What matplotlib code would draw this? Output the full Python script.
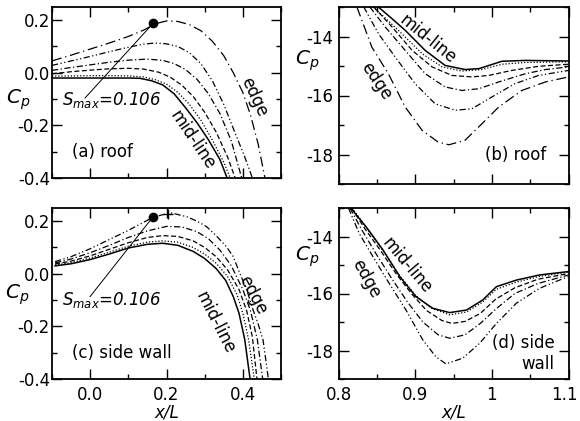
"""Cp distributions along roof and side wall, mid-line to edge"""

import matplotlib
matplotlib.use('Agg')
import matplotlib.pyplot as plt
from matplotlib.ticker import MultipleLocator, FixedLocator, FixedFormatter
from matplotlib.transforms import ScaledTranslation

plt.rcParams['font.family'] = ['DejaVu Sans']
plt.rcParams['font.size'] = 12
plt.rcParams['mathtext.fontset'] = 'dejavusans'

# ---- (a) roof, front part ----
a_solid_x = [-0.1, -0.05, 0.0, 0.05, 0.1, 0.13, 0.16, 0.19, 0.22, 0.25, 0.28, 0.31, 0.34, 0.36]
a_solid_y = [-0.02, -0.02, -0.02, -0.02, -0.02, -0.021, -0.03, -0.046, -0.08, -0.133, -0.19, -0.255, -0.33, -0.404]
a_dot_x = [-0.1, -0.05, 0.0, 0.05, 0.1, 0.14, 0.17, 0.2, 0.23, 0.26, 0.29, 0.32, 0.35, 0.367]
a_dot_y = [-0.013, -0.012, -0.011, -0.011, -0.012, -0.016, -0.026, -0.043, -0.075, -0.12, -0.18, -0.255, -0.34, -0.4]
a_dash_x = [-0.1, -0.05, 0.0, 0.05, 0.1, 0.14, 0.18, 0.21, 0.24, 0.27, 0.3, 0.33, 0.36, 0.38]
a_dash_y = [-0.004, 0.004, 0.01, 0.015, 0.017, 0.014, 0.002, -0.017, -0.047, -0.09, -0.15, -0.225, -0.32, -0.4]
a_dd_x = [-0.1, -0.05, 0.0, 0.05, 0.1, 0.15, 0.19, 0.22, 0.25, 0.28, 0.31, 0.34, 0.37, 0.397]
a_dd_y = [0.009, 0.02, 0.03, 0.04, 0.048, 0.052, 0.047, 0.035, 0.012, -0.025, -0.08, -0.155, -0.26, -0.4]
a_ddd_x = [-0.1, -0.05, 0.0, 0.05, 0.1, 0.14, 0.17, 0.2, 0.23, 0.26, 0.29, 0.32, 0.35, 0.38, 0.405, 0.425]
a_ddd_y = [0.028, 0.045, 0.062, 0.08, 0.097, 0.109, 0.113, 0.11, 0.1, 0.076, 0.035, -0.03, -0.12, -0.23, -0.32, -0.4]
a_edge_x = [-0.1, -0.05, 0.0, 0.05, 0.1, 0.14, 0.17, 0.2, 0.23, 0.26, 0.29, 0.32, 0.35, 0.375, 0.4, 0.42, 0.44, 0.458]
a_edge_y = [0.045, 0.067, 0.09, 0.113, 0.138, 0.162, 0.186, 0.197, 0.195, 0.183, 0.16, 0.12, 0.065, 0.0, -0.075, -0.16, -0.27, -0.4]
a_smax = (0.165, 0.188)

# ---- (b) roof, rear part ----
b_solid_x = [0.852, 0.87, 0.887, 0.913, 0.939, 0.965, 0.983, 1.0, 1.013, 1.044, 1.07, 1.1]
b_solid_y = [-13.0, -13.4, -13.79, -14.47, -14.98, -15.12, -15.09, -14.95, -14.84, -14.81, -14.82, -14.83]
b_dot_x = [0.845, 0.86, 0.878, 0.909, 0.935, 0.961, 0.987, 1.013, 1.044, 1.07, 1.1]
b_dot_y = [-13.0, -13.35, -13.79, -14.58, -15.03, -15.17, -15.12, -14.94, -14.88, -14.87, -14.86]
b_dash_x = [0.846, 0.87, 0.896, 0.922, 0.948, 0.974, 0.996, 1.026, 1.061, 1.1]
b_dash_y = [-13.0, -13.68, -14.47, -15.03, -15.32, -15.37, -15.32, -15.15, -15.01, -14.94]
b_dd_x = [0.841, 0.861, 0.887, 0.913, 0.939, 0.961, 0.983, 1.009, 1.044, 1.07, 1.1]
b_dd_y = [-13.0, -13.68, -14.47, -15.26, -15.71, -15.83, -15.77, -15.54, -15.26, -15.12, -15.03]
b_ddd_x = [0.833, 0.852, 0.874, 0.9, 0.926, 0.952, 0.974, 1.0, 1.03, 1.061, 1.1]
b_ddd_y = [-13.0, -13.9, -14.7, -15.6, -16.28, -16.5, -16.45, -16.05, -15.6, -15.32, -15.15]
b_edge_x = [0.824, 0.8435, 0.865, 0.887, 0.909, 0.93, 0.944, 0.965, 0.987, 1.009, 1.039, 1.07, 1.1]
b_edge_y = [-13.0, -14.36, -15.26, -16.39, -17.18, -17.58, -17.67, -17.52, -16.96, -16.39, -15.83, -15.54, -15.37]

# ---- (c) side wall, front part ----
c_solid_x = [-0.092, -0.05, 0.0, 0.05, 0.1, 0.15, 0.19, 0.23, 0.27, 0.3, 0.33, 0.355, 0.375, 0.39, 0.405, 0.419]
c_solid_y = [0.03, 0.038, 0.054, 0.075, 0.098, 0.112, 0.116, 0.108, 0.085, 0.058, 0.02, -0.025, -0.087, -0.15, -0.25, -0.4]
c_dot_x = [-0.092, -0.05, 0.0, 0.05, 0.1, 0.15, 0.19, 0.23, 0.27, 0.3, 0.33, 0.36, 0.385, 0.4, 0.415, 0.43]
c_dot_y = [0.033, 0.042, 0.06, 0.082, 0.105, 0.12, 0.125, 0.12, 0.1, 0.075, 0.04, -0.01, -0.08, -0.15, -0.25, -0.4]
c_dash_x = [-0.092, -0.05, 0.0, 0.05, 0.1, 0.15, 0.19, 0.23, 0.27, 0.3, 0.33, 0.36, 0.39, 0.41, 0.425, 0.437]
c_dash_y = [0.037, 0.048, 0.068, 0.093, 0.118, 0.138, 0.145, 0.142, 0.125, 0.1, 0.065, 0.015, -0.06, -0.14, -0.24, -0.4]
c_dd_x = [-0.092, -0.05, 0.0, 0.05, 0.1, 0.15, 0.2, 0.24, 0.28, 0.31, 0.34, 0.37, 0.4, 0.42, 0.438, 0.452]
c_dd_y = [0.041, 0.056, 0.08, 0.108, 0.138, 0.163, 0.18, 0.178, 0.16, 0.133, 0.09, 0.03, -0.06, -0.14, -0.25, -0.4]
c_edge_x = [-0.092, -0.05, 0.0, 0.05, 0.1, 0.165, 0.21, 0.253, 0.28, 0.305, 0.33, 0.357, 0.375, 0.392, 0.41, 0.427, 0.44, 0.453, 0.467]
c_edge_y = [0.046, 0.065, 0.095, 0.13, 0.165, 0.215, 0.232, 0.217, 0.2, 0.179, 0.145, 0.103, 0.065, 0.002, -0.06, -0.138, -0.19, -0.252, -0.4]
c_smax = (0.165, 0.217)
c_plus = (0.205, 0.227)

# ---- (d) side wall, rear part ----
d_solid_x = [0.816, 0.836, 0.858, 0.88, 0.901, 0.923, 0.945, 0.967, 0.988, 1.006, 1.032, 1.062, 1.1]
d_solid_y = [-13.0, -13.66, -14.47, -15.41, -16.11, -16.52, -16.67, -16.58, -16.23, -15.76, -15.53, -15.35, -15.23]
d_dot_x = [0.818, 0.837, 0.858, 0.88, 0.9, 0.92, 0.945, 0.967, 0.988, 1.006, 1.032, 1.062, 1.1]
d_dot_y = [-13.0, -13.72, -14.5, -15.38, -16.05, -16.5, -16.75, -16.65, -16.3, -15.85, -15.6, -15.4, -15.25]
d_dash_x = [0.817, 0.835, 0.855, 0.875, 0.895, 0.915, 0.935, 0.948, 0.965, 0.985, 1.005, 1.03, 1.06, 1.1]
d_dash_y = [-13.0, -13.75, -14.5, -15.3, -16.0, -16.6, -16.95, -17.05, -16.98, -16.7, -16.2, -15.8, -15.5, -15.3]
d_dd_x = [0.815, 0.83, 0.85, 0.87, 0.89, 0.91, 0.93, 0.945, 0.965, 0.985, 1.005, 1.03, 1.06, 1.1]
d_dd_y = [-13.0, -13.75, -14.65, -15.5, -16.3, -17.0, -17.45, -17.57, -17.45, -17.05, -16.55, -16.0, -15.65, -15.35]
d_edge_x = [0.813, 0.827, 0.845, 0.866, 0.888, 0.91, 0.927, 0.94, 0.962, 0.984, 1.006, 1.032, 1.062, 1.099]
d_edge_y = [-13.0, -13.89, -14.71, -15.64, -16.58, -17.63, -18.22, -18.47, -18.27, -17.75, -17.05, -16.34, -15.82, -15.41]

# line styles, mid-line -> edge
ls_solid = '-'
ls_dot = (0, (1, 1.5))
ls_dash = (0, (4, 2))
ls_dd = (0, (5, 2, 1, 2))
ls_ddd = (0, (5, 2, 1, 2, 1, 2))
ls_edge = (0, (8, 3, 1, 3))

W, H = 580, 421
fig = plt.figure(figsize=(W / 100, H / 100), dpi=100)


def px_axes(left, top, right, bottom):
    return fig.add_axes([left / W, (H - bottom) / H, (right - left) / W, (bottom - top) / H])


axa = px_axes(52, 7, 281, 178)
axb = px_axes(338.5, 7, 568.5, 184)
axc = px_axes(52, 208, 281, 379)
axd = px_axes(338.5, 208, 568.5, 379)

for ax in (axa, axb, axc, axd):
    ax.tick_params(which='both', direction='in', top=True, right=True, width=1)
    ax.tick_params(which='major', length=7)
    ax.tick_params(which='minor', length=3.5)
    for s in ax.spines.values():
        s.set_linewidth(1.3)

# front panels
for ax in (axa, axc):
    ax.set_xlim(-0.1, 0.5)
    ax.set_ylim(-0.4, 0.25)
    ax.xaxis.set_major_locator(MultipleLocator(0.2))
    ax.xaxis.set_minor_locator(MultipleLocator(0.1))
    ax.yaxis.set_major_locator(FixedLocator([-0.4, -0.2, 0.0, 0.2]))
    ax.yaxis.set_major_formatter(FixedFormatter(['-0.4', '-0.2', '0.0', '0.2']))
    ax.yaxis.set_minor_locator(MultipleLocator(0.1))
    ax.tick_params(axis='y', pad=1.5)
    ax.tick_params(axis='x', pad=5)

# rear panels
for ax in (axb, axd):
    ax.set_xlim(0.8, 1.1)
    ax.set_ylim(-19, -13)
    ax.xaxis.set_major_locator(FixedLocator([0.8, 0.9, 1.0, 1.1]))
    ax.xaxis.set_major_formatter(FixedFormatter(['0.8', '0.9', '1', '1.1']))
    ax.xaxis.set_minor_locator(MultipleLocator(0.05))
    ax.yaxis.set_major_locator(FixedLocator([-18, -16, -14]))
    ax.yaxis.set_major_formatter(FixedFormatter(['-18', '-16', '-14']))
    ax.yaxis.set_minor_locator(MultipleLocator(1))
    ax.tick_params(axis='y', pad=4)
    ax.tick_params(axis='x', pad=5)

axa.tick_params(axis='x', labelbottom=False)
axb.tick_params(axis='x', labelbottom=False)

# keep the last "1.1" inside the figure
last = axd.xaxis.get_major_ticks()[-1].label1
last.set_transform(last.get_transform() + ScaledTranslation(-0.04, 0, fig.dpi_scale_trans))

lw_s = 1.1
lw = 0.9

# (a)
axa.plot(a_solid_x, a_solid_y, 'k', ls=ls_solid, lw=lw_s)
axa.plot(a_dot_x, a_dot_y, 'k', ls=ls_dot, lw=lw)
axa.plot(a_dash_x, a_dash_y, 'k', ls=ls_dash, lw=lw)
axa.plot(a_dd_x, a_dd_y, 'k', ls=ls_dd, lw=lw)
axa.plot(a_ddd_x, a_ddd_y, 'k', ls=ls_ddd, lw=lw)
axa.plot(a_edge_x, a_edge_y, 'k', ls=ls_edge, lw=lw)
axa.plot([a_smax[0]], [a_smax[1]], 'ko', ms=6)
axa.plot([a_smax[0], -0.0135], [a_smax[1], -0.096], 'k', lw=0.7)
axa.text(-0.074, -0.105, '$S_{max}$=0.106', style='italic', ha='left', va='center')
axa.text(0.269, -0.256, 'mid-line', rotation=-56, rotation_mode='anchor', ha='center', va='center')
axa.text(0.429, -0.092, 'edge', rotation=-65, rotation_mode='anchor', ha='center', va='center')
axa.text(0.087, 0.152, '(a) roof', transform=axa.transAxes, ha='left', va='center')

# (b)
axb.plot(b_solid_x, b_solid_y, 'k', ls=ls_solid, lw=lw_s)
axb.plot(b_dot_x, b_dot_y, 'k', ls=ls_dot, lw=lw)
axb.plot(b_dash_x, b_dash_y, 'k', ls=ls_dash, lw=lw)
axb.plot(b_dd_x, b_dd_y, 'k', ls=ls_dd, lw=lw)
axb.plot(b_ddd_x, b_ddd_y, 'k', ls=ls_ddd, lw=lw)
axb.plot(b_edge_x, b_edge_y, 'k', ls=ls_edge, lw=lw)
axb.text(0.916, -14.1, 'mid-line', rotation=-39, rotation_mode='anchor', ha='center', va='center')
axb.text(0.849, -15.51, 'edge', rotation=-56, rotation_mode='anchor', ha='center', va='center')
axb.text(0.903, 0.164, '(b) roof', transform=axb.transAxes, ha='right', va='center')

# (c)
axc.plot(c_solid_x, c_solid_y, 'k', ls=ls_solid, lw=lw_s)
axc.plot(c_dot_x, c_dot_y, 'k', ls=ls_dot, lw=lw)
axc.plot(c_dash_x, c_dash_y, 'k', ls=ls_dash, lw=lw)
axc.plot(c_dd_x, c_dd_y, 'k', ls=ls_dd, lw=lw)
axc.plot(c_edge_x, c_edge_y, 'k', ls=ls_ddd, lw=lw)
axc.plot([c_smax[0]], [c_smax[1]], 'ko', ms=6)
axc.plot([c_plus[0]], [c_plus[1]], 'k+', ms=7, mew=1)
axc.plot([c_smax[0], -0.0004], [c_smax[1], -0.087], 'k', lw=0.7)
axc.text(-0.074, -0.098, '$S_{max}$=0.106', style='italic', ha='left', va='center')
axc.text(0.327, -0.187, 'mid-line', rotation=-63, rotation_mode='anchor', ha='center', va='center')
axc.text(0.427, -0.081, 'edge', rotation=-62, rotation_mode='anchor', ha='center', va='center')
axc.text(0.087, 0.152, '(c) side wall', transform=axc.transAxes, ha='left', va='center')
axc.set_xlabel('x/L', style='italic', labelpad=0)

# (d)
axd.plot(d_solid_x, d_solid_y, 'k', ls=ls_solid, lw=lw_s)
axd.plot(d_dot_x, d_dot_y, 'k', ls=ls_dot, lw=lw)
axd.plot(d_dash_x, d_dash_y, 'k', ls=ls_dash, lw=lw)
axd.plot(d_dd_x, d_dd_y, 'k', ls=ls_dd, lw=lw)
axd.plot(d_edge_x, d_edge_y, 'k', ls=ls_ddd, lw=lw)
axd.text(0.889, -15.03, 'mid-line', rotation=-50, rotation_mode='anchor', ha='center', va='center')
axd.text(0.836, -15.47, 'edge', rotation=-61, rotation_mode='anchor', ha='center', va='center')
axd.text(0.939, 0.15, '(d) side\nwall', transform=axd.transAxes, ha='right', va='center',
         multialignment='right', linespacing=1.2)
axd.set_xlabel('x/L', style='italic', labelpad=0)

# C_p labels sit between the tick labels
fig.text(18 / W, 1 - 100 / H, '$C_p$', ha='center', va='center', fontsize=14.5)
fig.text(17 / W, 1 - 295 / H, '$C_p$', ha='center', va='center', fontsize=14.5)
fig.text(307 / W, 1 - 61 / H, '$C_p$', ha='center', va='center', fontsize=14.5)
fig.text(307 / W, 1 - 257 / H, '$C_p$', ha='center', va='center', fontsize=14.5)

plt.savefig('out.png', dpi=100)
